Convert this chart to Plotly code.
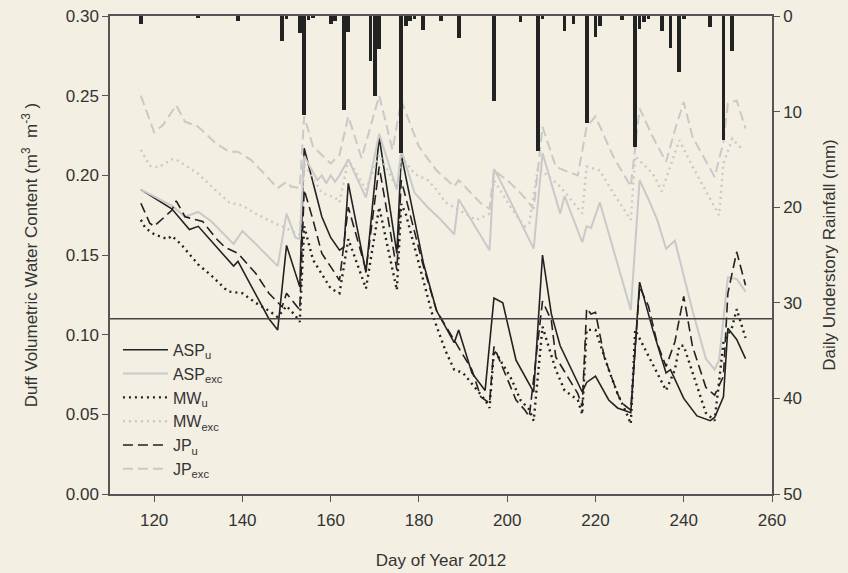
import plotly.graph_objects as go

# ---------------- data ----------------
asp_u_day = [117, 124, 128, 130, 138, 139, 146, 148, 150, 153, 154, 158, 160, 162, 163, 164, 168, 171, 175, 176,
             181, 184, 188, 189, 192, 195, 197, 199, 202, 206, 208, 210, 212, 217, 218, 220, 223, 225, 228, 230,
             233, 236, 237, 240, 243, 246, 247, 249, 250, 252, 254]
asp_u_val = [0.191, 0.179, 0.166, 0.168, 0.143, 0.146, 0.110, 0.103, 0.156, 0.130, 0.217, 0.174, 0.161, 0.153, 0.155,
             0.195, 0.139, 0.224, 0.151, 0.213, 0.145, 0.115, 0.095, 0.103, 0.076, 0.065, 0.123, 0.120, 0.084, 0.064,
             0.150, 0.113, 0.093, 0.064, 0.070, 0.074, 0.059, 0.054, 0.051, 0.133, 0.103, 0.076, 0.078, 0.060, 0.049,
             0.046, 0.048, 0.061, 0.104, 0.097, 0.085]

asp_exc_day = [117, 121, 124, 127, 130, 133, 138, 140, 143, 148, 150, 152, 153, 154, 157, 158, 159, 160, 161, 162,
               164, 168, 171, 175, 176, 179, 182, 185, 188, 189, 196, 197, 198, 206, 208, 212, 213, 217, 218, 219,
               221, 228, 230, 232, 234, 236, 238, 242, 245, 247, 248, 250, 252, 254]
asp_exc_val = [0.191, 0.185, 0.181, 0.174, 0.177, 0.171, 0.157, 0.165, 0.157, 0.143, 0.176, 0.161, 0.160, 0.212,
               0.197, 0.200, 0.195, 0.200, 0.196, 0.200, 0.210, 0.186, 0.226, 0.191, 0.216, 0.189, 0.180, 0.172,
               0.163, 0.185, 0.153, 0.204, 0.199, 0.154, 0.214, 0.176, 0.187, 0.158, 0.168, 0.167, 0.183, 0.1155,
               0.197, 0.185, 0.172, 0.154, 0.159, 0.115, 0.085, 0.078, 0.084, 0.136, 0.135, 0.127]

mw_u_day = [117, 118, 120, 123, 124, 126, 130, 133, 136, 137, 140, 143, 146, 148, 150, 152, 153, 154, 156, 160,
            162, 164, 168, 171, 175, 176, 177, 181, 183, 186, 188, 190, 193, 195, 196, 197, 198, 201, 203, 205,
            206, 208, 211, 213, 216, 217, 218, 220, 223, 225, 227, 228, 229, 234, 236, 238, 239, 240, 243, 245,
            247, 249, 251, 252, 254]
mw_u_val = [0.172, 0.167, 0.163, 0.160, 0.162, 0.157, 0.144, 0.137, 0.129, 0.127, 0.126, 0.120, 0.115, 0.111,
            0.118, 0.112, 0.108, 0.168, 0.147, 0.129, 0.126, 0.160, 0.129, 0.180, 0.128, 0.182, 0.176, 0.134,
            0.113, 0.090, 0.078, 0.076, 0.066, 0.059, 0.054, 0.090, 0.086, 0.072, 0.059, 0.053, 0.046, 0.105,
            0.078, 0.065, 0.059, 0.050, 0.103, 0.103, 0.078, 0.063, 0.051, 0.044, 0.103, 0.076, 0.065, 0.078,
            0.093, 0.093, 0.067, 0.051, 0.046, 0.095, 0.105, 0.116, 0.098]

mw_exc_day = [117, 119, 121, 124, 125, 130, 133, 137, 140, 143, 148, 149, 152, 153, 154, 158, 161, 162, 164, 168,
              171, 175, 176, 179, 182, 184, 186, 193, 196, 197, 201, 204, 205, 207, 212, 217, 218, 221, 224, 228,
              229, 233, 235, 239, 242, 248, 249, 251, 253]
mw_exc_val = [0.216, 0.206, 0.205, 0.210, 0.210, 0.201, 0.193, 0.183, 0.181, 0.176, 0.169, 0.168, 0.164, 0.163,
              0.207, 0.189, 0.186, 0.183, 0.210, 0.191, 0.213, 0.192, 0.212, 0.201, 0.197, 0.191, 0.183, 0.172,
              0.176, 0.197, 0.179, 0.168, 0.170, 0.205, 0.193, 0.176, 0.2055, 0.203, 0.189, 0.172, 0.212, 0.201,
              0.190, 0.222, 0.2055, 0.175, 0.2075, 0.223, 0.217]

jp_u_day = [117, 119, 120, 124, 125, 127, 131, 134, 136, 139, 143, 146, 149, 150, 153, 154, 156, 158, 161, 162,
            164, 168, 171, 175, 176, 181, 184, 187, 192, 194, 196, 197, 198, 202, 204, 205, 208, 210, 211, 216,
            217, 218, 219, 220, 222, 225, 226, 228, 230, 232, 234, 236, 238, 240, 242, 245, 247, 249, 250, 252, 254]
jp_u_val = [0.1825, 0.170, 0.168, 0.178, 0.184, 0.174, 0.171, 0.1605, 0.155, 0.151, 0.1385, 0.126, 0.1175, 0.126,
            0.1155, 0.191, 0.172, 0.151, 0.1385, 0.134, 0.180, 0.1406, 0.2055, 0.1406, 0.197, 0.143, 0.115, 0.101,
            0.078, 0.061, 0.057, 0.0925, 0.086, 0.059, 0.0527, 0.0485, 0.121, 0.109, 0.086, 0.063, 0.055, 0.1165,
            0.113, 0.114, 0.086, 0.063, 0.057, 0.0527, 0.130, 0.118, 0.0946, 0.080, 0.0956, 0.124, 0.0925, 0.067,
            0.062, 0.074, 0.126, 0.152, 0.131]

jp_exc_day = [117, 120, 122, 125, 127, 130, 132, 134, 137, 139, 142, 145, 148, 150, 151, 153, 154, 156, 160, 162,
              164, 167, 171, 174, 176, 180, 184, 188, 189, 194, 196, 197, 200, 203, 206, 208, 211, 213, 216, 218,
              220, 224, 228, 230, 233, 236, 238, 240, 242, 247, 249, 250, 252, 254]
jp_exc_val = [0.250, 0.227, 0.2316, 0.244, 0.2337, 0.2305, 0.2253, 0.220, 0.2148, 0.2148, 0.2096, 0.201, 0.192,
              0.196, 0.193, 0.192, 0.237, 0.218, 0.2075, 0.2128, 0.237, 0.2107, 0.250, 0.216, 0.247, 0.218, 0.203,
              0.193, 0.197, 0.1825, 0.179, 0.203, 0.197, 0.189, 0.179, 0.2305, 0.2055, 0.203, 0.200, 0.2305, 0.237,
              0.212, 0.193, 0.242, 0.224, 0.2085, 0.2285, 0.246, 0.224, 0.199, 0.221, 0.245, 0.247, 0.2295]

rain_day = [117, 130, 139, 149, 150, 153, 154, 155, 156, 160, 161, 163, 164, 169, 170, 171, 176, 177, 178, 179,
            181, 185, 189, 197, 203, 207, 208, 213, 215, 218, 220, 221, 226, 229, 230, 231, 232, 235, 237, 239,
            240, 246, 249, 251]
rain_mm = [0.8, 0.2, 0.5, 2.6, 0.3, 1.8, 10.4, 0.4, 0.2, 0.8, 0.5, 9.8, 1.7, 4.7, 8.4, 3.5, 14.3, 1.0, 0.5, 0.3,
           1.5, 0.5, 2.3, 8.9, 0.6, 14.1, 0.3, 1.6, 0.8, 11.2, 2.2, 1.0, 0.4, 13.7, 1.4, 0.6, 0.3, 1.6, 3.3, 5.9,
           0.3, 1.1, 13.0, 3.7]

threshold = 0.11

# ---------------- figure ----------------
BG = "#f3efe3"
AX = "#555555"
TXT = "#333333"
BLACK = "#222222"
GRAY = "#c9c9c9"
FONT = "Liberation Sans, Arial, sans-serif"

fig = go.Figure()

fig.add_trace(go.Bar(x=rain_day, y=rain_mm, yaxis="y2", marker=dict(color=BLACK, line=dict(width=0)),
                     width=0.85, showlegend=False, hoverinfo="x+y"))

series = [
    ("ASP<sub>u</sub>", asp_u_day, asp_u_val, BLACK, "solid", 1.6),
    ("ASP<sub>exc</sub>", asp_exc_day, asp_exc_val, GRAY, "solid", 2.0),
    ("MW<sub>u</sub>", mw_u_day, mw_u_val, BLACK, "2px,4px", 2.4),
    ("MW<sub>exc</sub>", mw_exc_day, mw_exc_val, GRAY, "2px,4px", 2.4),
    ("JP<sub>u</sub>", jp_u_day, jp_u_val, BLACK, "10px,5px", 1.6),
    ("JP<sub>exc</sub>", jp_exc_day, jp_exc_val, GRAY, "10px,5px", 2.0),
]
for name, d, v, c, dash, w in series:
    fig.add_trace(go.Scatter(x=d, y=v, mode="lines", name=name,
                             line=dict(color=c, dash=dash, width=w)))

fig.add_shape(type="line", xref="paper", x0=0, x1=1, yref="y", y0=threshold, y1=threshold,
              line=dict(color="#444444", width=1.3))

fig.update_layout(
    width=848, height=573,
    paper_bgcolor=BG, plot_bgcolor=BG,
    margin=dict(l=110, r=76, t=16, b=79, autoexpand=False),
    font=dict(family=FONT, size=17, color=TXT),
    bargap=0,
    xaxis=dict(range=[110, 260], tickvals=[120, 140, 160, 180, 200, 220, 240, 260],
               showline=True, linecolor=AX, linewidth=1.5, mirror=True, automargin=False,
               ticks="outside", ticklen=6, tickcolor=AX, tickwidth=1.3, ticklabelstandoff=4,
               showgrid=False, zeroline=False,
               title=dict(text="Day of Year 2012", font=dict(size=17), standoff=25)),
    yaxis=dict(range=[0, 0.30], tickvals=[0, 0.05, 0.10, 0.15, 0.20, 0.25, 0.30], tickformat=".2f",
               showline=True, linecolor=AX, linewidth=1.5, automargin=False,
               ticks="outside", ticklen=6, tickcolor=AX, tickwidth=1.3,
               showgrid=False, zeroline=False,
               title=dict(text="Duff Volumetric Water Content (m<sup>3</sup>  m<sup>-3</sup> )",
                          font=dict(size=17), standoff=24)),
    yaxis2=dict(range=[50, 0], overlaying="y", side="right", tickvals=[0, 10, 20, 30, 40, 50],
                showline=True, linecolor=AX, linewidth=1.5, automargin=False,
                ticks="outside", ticklen=6, tickcolor=AX, tickwidth=1.3,
                showgrid=False, zeroline=False,
                title=dict(text="Daily Understory Rainfall (mm)", font=dict(size=17), standoff=22)),
    legend=dict(x=0.012, y=0.337, xanchor="left", yanchor="top", bgcolor="rgba(0,0,0,0)",
                font=dict(size=16, color=TXT), itemwidth=45, tracegroupgap=0),
    showlegend=True,
)

fig.write_html("out.html", config={"displayModeBar": False},
               post_script="document.body.style.margin='0';document.body.style.background='%s';" % BG)
